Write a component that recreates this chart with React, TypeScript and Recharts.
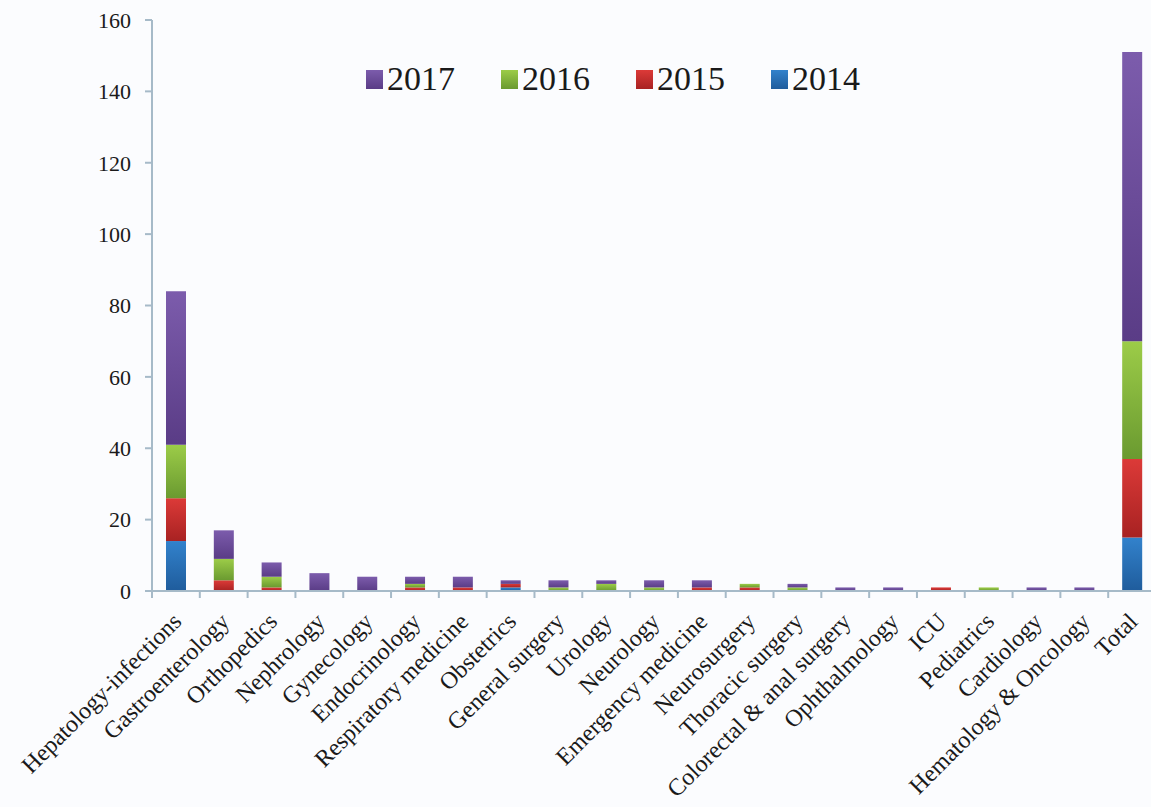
import React from "react";
import { Bar, BarChart, XAxis, YAxis } from "recharts";

const categories = [
  "Hepatology-infections",
  "Gastroenterology",
  "Orthopedics",
  "Nephrology",
  "Gynecology",
  "Endocrinology",
  "Respiratory medicine",
  "Obstetrics",
  "General surgery",
  "Urology",
  "Neurology",
  "Emergency medicine",
  "Neurosurgery",
  "Thoracic surgery",
  "Colorectal & anal surgery",
  "Ophthalmology",
  "ICU",
  "Pediatrics",
  "Cardiology",
  "Hematology & Oncology",
  "Total",
];

const y2014 = [14, 0, 0, 0, 0, 0, 0, 1, 0, 0, 0, 0, 0, 0, 0, 0, 0, 0, 0, 0, 15];
const y2015 = [12, 3, 1, 0, 0, 1, 1, 1, 0, 0, 0, 1, 1, 0, 0, 0, 1, 0, 0, 0, 22];
const y2016 = [15, 6, 3, 0, 0, 1, 0, 0, 1, 2, 1, 0, 1, 1, 0, 0, 0, 1, 0, 0, 33];
const y2017 = [43, 8, 4, 5, 4, 2, 3, 1, 2, 1, 2, 2, 0, 1, 1, 1, 0, 0, 1, 1, 81];

const yTicks = [0, 20, 40, 60, 80, 100, 120, 140, 160];

const data = categories.map((name, i) => ({
  name,
  y2014: y2014[i],
  y2015: y2015[i],
  y2016: y2016[i],
  y2017: y2017[i],
}));

const W = 1160;
const H = 807;
const LEFT = 152;
const RIGHT = 4;
const BAND = (W - LEFT - RIGHT) / categories.length;
const AXIS = "#a6bac8";
const FONT = "'Liberation Serif', 'Times New Roman', serif";

const series = [
  { key: "y2014", label: "2014", top: "#3282cc", bottom: "#1f5c9c" },
  { key: "y2015", label: "2015", top: "#dc3a38", bottom: "#a82222" },
  { key: "y2016", label: "2016", top: "#9ccc48", bottom: "#6a9a30" },
  { key: "y2017", label: "2017", top: "#7c5cac", bottom: "#5a3c86" },
];

function XTick({ x, y, payload }: any) {
  return (
    <g>
      <line x1={x - BAND / 2} x2={x - BAND / 2} y1={y} y2={y + 7} stroke={AXIS} strokeWidth={2} />
      <text
        transform={`translate(${x + 7},${y + 32}) rotate(-45)`}
        textAnchor="end"
        fontSize={24}
        fontFamily={FONT}
        fill="#1a1a1a"
      >
        {payload.value}
      </text>
    </g>
  );
}

function LegendBox() {
  const items = [...series].reverse();
  return (
    <div
      style={{
        position: "absolute",
        top: 62,
        left: 366,
        display: "flex",
        fontFamily: FONT,
      }}
    >
      {items.map((s) => (
        <div key={s.key} style={{ display: "flex", alignItems: "center", width: 135 }}>
          <span
            style={{
              display: "inline-block",
              width: 17,
              height: 19,
              background: `linear-gradient(${s.top}, ${s.bottom})`,
              marginRight: 4,
            }}
          />
          <span style={{ fontSize: 34, color: "#1a1a1a", lineHeight: "34px" }}>{s.label}</span>
        </div>
      ))}
    </div>
  );
}

export default function App() {
  return (
    <div
      style={{
        position: "absolute",
        left: 0,
        top: 0,
        width: 1151,
        height: 807,
        overflow: "hidden",
        background: "#fbfcfe",
      }}
    >
      <BarChart
        width={W}
        height={H}
        data={data}
        margin={{ top: 20, right: RIGHT, left: 0, bottom: 0 }}
        barSize={20}
      >
        <defs>
          {series.map((s) => (
            <linearGradient key={s.key} id={`g-${s.key}`} x1="0" y1="0" x2="0" y2="1">
              <stop offset="0%" stopColor={s.top} />
              <stop offset="100%" stopColor={s.bottom} />
            </linearGradient>
          ))}
        </defs>
        <XAxis
          dataKey="name"
          interval={0}
          height={216}
          tickSize={0}
          tickMargin={0}
          tickLine={false}
          axisLine={{ stroke: AXIS, strokeWidth: 2 }}
          tick={<XTick />}
        />
        <YAxis
          width={LEFT}
          domain={[0, 160]}
          ticks={yTicks}
          interval={0}
          tickSize={7}
          tickMargin={14}
          axisLine={{ stroke: AXIS, strokeWidth: 2 }}
          tickLine={{ stroke: AXIS, strokeWidth: 2 }}
          tick={{ fontSize: 22, fill: "#1a1a1a", fontFamily: FONT }}
        />
        {series.map((s) => (
          <Bar
            key={s.key}
            dataKey={s.key}
            stackId="a"
            fill={`url(#g-${s.key})`}
            isAnimationActive={false}
          />
        ))}
      </BarChart>
      <LegendBox />
    </div>
  );
}
